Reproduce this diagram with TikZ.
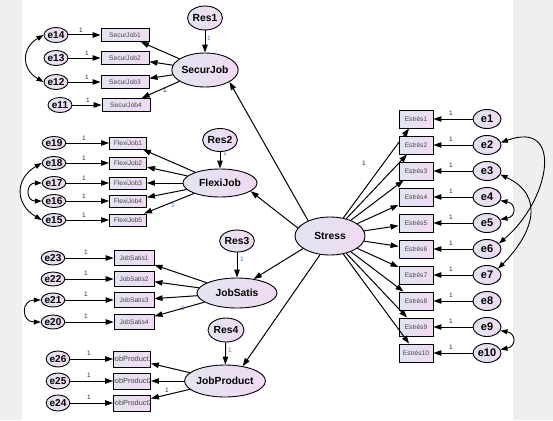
\documentclass[tikz,border=0pt]{standalone}
\usepackage{fontspec}
\setmainfont{Liberation Sans}
\usetikzlibrary{arrows.meta,shapes.geometric}
\definecolor{bgg}{HTML}{EFEFEF}
\definecolor{shL}{HTML}{E2E4F1}
\definecolor{shR}{HTML}{F1DAF3}
\definecolor{lblue}{HTML}{3C78C8}
\definecolor{lgray}{HTML}{2A2A1A}
\definecolor{btext}{HTML}{444444}
\begin{document}
\begin{tikzpicture}[x=1pt,y=-1pt,
  sz/.style 2 args={minimum width=#1pt,minimum height=#2pt},
  lat/.style={ellipse,draw=black,line width=0.9pt,left color=shL,right color=shR,inner sep=0pt,font=\bfseries\fontsize{10.3}{10.3}\selectfont},
  errl/.style={lat,font=\bfseries\fontsize{10}{10}\selectfont},
  errr/.style={lat,font=\bfseries\fontsize{11}{11}\selectfont},
  obs/.style={rectangle,draw=black,line width=0.9pt,left color=shL,right color=shR,inner sep=0pt,text=btext,font=\fontsize{6.6}{6.6}\selectfont},
  obsjp/.style 2 args={obs,path picture={\node[font=\fontsize{7.4}{7.4}\selectfont,text=btext,inner sep=0pt] (#2) at (path picture bounding box.center) {#1};}},
  arr/.style={line width=1pt,-{Triangle[length=8pt,width=5.5pt]}},
  cov/.style={line width=0.9pt,{Triangle[length=7pt,width=5pt]}-{Triangle[length=7pt,width=5pt]}},
  one/.style={font=\fontsize{6.5}{6.5}\selectfont,text=lgray,inner sep=0pt},
  oneb/.style={one,text=lblue}
]
\useasboundingbox (0,0) rectangle (553,420);
\fill[bgg] (0,0) rectangle (553,420);
\fill[white] (22,0) rectangle (513,420);

% ---------- SecurJob group
\node[lat,sz={35}{24}] (res1) at (205,18) {Res1};
\node[lat,sz={66}{34}] (securjob) at (205,70) {SecurJob};
\node[obs,sz={48}{13}] (sj1) at (125,35) {SecurJob1};
\node[obs,sz={48}{13}] (sj2) at (125,58) {SecurJob2};
\node[obs,sz={48}{13}] (sj3) at (125,82) {SecurJob3};
\node[obs,sz={48}{13}] (sj4) at (126,105) {SecurJob4};
\node[errl,sz={24}{15}] (e14) at (56,35) {e14};
\node[errl,sz={24}{15}] (e13) at (56,58) {e13};
\node[errl,sz={24}{15}] (e12) at (56,82) {e12};
\node[errl,sz={24}{15}] (e11) at (60,105) {e11};

% ---------- FlexiJob group
\node[lat,sz={32}{23}] (res2) at (220,140) {Res2};
\node[lat,sz={74}{28}] (flexijob) at (220,183) {FlexiJob};
\node[obs,sz={37}{12}] (fj1) at (128,143) {FlexiJob1};
\node[obs,sz={37}{12}] (fj2) at (128,163) {FlexiJob2};
\node[obs,sz={37}{12}] (fj3) at (128,183) {FlexiJob3};
\node[obs,sz={37}{12}] (fj4) at (128,201) {FlexiJob4};
\node[obs,sz={37}{12}] (fj5) at (128,220) {FlexiJob5};
\node[errl,sz={22}{13}] (e19) at (54,143) {e19};
\node[errl,sz={22}{13}] (e18) at (54,163) {e18};
\node[errl,sz={22}{13}] (e17) at (54,183) {e17};
\node[errl,sz={22}{13}] (e16) at (54,201) {e16};
\node[errl,sz={22}{13}] (e15) at (54,220) {e15};

% ---------- JobSatis group
\node[lat,sz={33}{22}] (res3) at (237,241) {Res3};
\node[lat,sz={80}{30}] (jobsatis) at (237,293) {JobSatis};
\node[obs,sz={40}{15}] (js1) at (134,258) {JobSatis1};
\node[obs,sz={40}{15}] (js2) at (134,279) {JobSatis2};
\node[obs,sz={40}{15}] (js3) at (134,300) {JobSatis3};
\node[obs,sz={40}{15}] (js4) at (134,322) {JobSatis4};
\node[errl,sz={21}{14}] (e23) at (53,258) {e23};
\node[errl,sz={21}{14}] (e22) at (53,279) {e22};
\node[errl,sz={21}{14}] (e21) at (53,300) {e21};
\node[errl,sz={21}{14}] (e20) at (53,322) {e20};

% ---------- JobProduct group
\node[lat,sz={36}{24}] (res4) at (226,330) {Res4};
\node[lat,sz={74}{32}] (jobproduct) at (225,381) {JobProduct};
\node[obsjp={JobProduct1}{jpt1},sz={37}{16}] (jp1) at (132,359) {};
\node[obsjp={JobProduct2}{jpt2},sz={37}{16}] (jp2) at (132,381) {};
\node[obsjp={JobProduct3}{jpt3},sz={37}{16}] (jp3) at (132,403) {};
\node[errl,sz={23}{16}] (e26) at (58,359) {e26};
\node[errl,sz={23}{16}] (e25) at (58,381) {e25};
\node[errl,sz={23}{16}] (e24) at (58,403) {e24};

% ---------- Stress and indicators
\node[lat,sz={70}{38}] (stress) at (330,236) {Stress};
\foreach \i/\y in {1/119,2/145,3/171,4/197,5/223,6/249,7/275,8/301,9/327,10/353}{
  \node[obs,sz={34}{18}] (es\i) at (416,\y) {Estrés\i};
  \node[errr,sz={28}{19}] (e\i) at (487,\y) {e\i};
  \draw[arr] (e\i) -- (es\i);
  \draw[arr] (stress) -- (es\i);
  \node[one] (le\i) at (451,\y-6) {1};
}

% ---------- connectors: latent -> indicators
\foreach \b in {sj1,sj2,sj3,sj4}{\draw[arr] (securjob) -- (\b);}
\foreach \b in {fj1,fj2,fj3,fj4,fj5}{\draw[arr] (flexijob) -- (\b);}
\foreach \b in {js1,js2,js3,js4}{\draw[arr] (jobsatis) -- (\b);}
\foreach \b in {jp1,jp2,jp3}{\draw[arr] (jobproduct) -- (\b);}

% residuals
\draw[arr] (res1) -- (securjob);
\draw[arr] (res2) -- (flexijob);
\draw[arr] (res3) -- (jobsatis);
\draw[arr] (res4) -- (jobproduct);

% errors -> indicators
\draw[arr] (e14) -- (sj1); \draw[arr] (e13) -- (sj2); \draw[arr] (e12) -- (sj3); \draw[arr] (e11) -- (sj4);
\draw[arr] (e19) -- (fj1); \draw[arr] (e18) -- (fj2); \draw[arr] (e17) -- (fj3); \draw[arr] (e16) -- (fj4); \draw[arr] (e15) -- (fj5);
\draw[arr] (e23) -- (js1); \draw[arr] (e22) -- (js2); \draw[arr] (e21) -- (js3); \draw[arr] (e20) -- (js4);
\draw[arr] (e26) -- (jp1); \draw[arr] (e25) -- (jp2); \draw[arr] (e24) -- (jp3);

% Stress -> latent
\draw[arr] (stress.145) -- (securjob.-26);
\draw[arr] (stress.166) -- (flexijob.-15);
\draw[arr] (stress.205) -- (jobsatis.40);
\draw[arr] (stress.-118) -- (jobproduct.40);

% covariances
\draw[cov] (e14.west) to[out=210,in=150,looseness=1.4] (e12.west);
\draw[cov] (e18.west) to[out=210,in=150,looseness=1.4] (e15.west);
\draw[cov] (e17.west) to[out=180,in=180,looseness=2.3] (e16.west);
\draw[cov] (e21.west) to[out=180,in=180,looseness=2.3] (e20.west);
\draw[cov] (e2.10) to[out=20,in=40,looseness=1.7] (e6.25);
\draw[cov] (e3.-15) to[out=-25,in=45,looseness=1.35] (e7.30);
\draw[cov] (e4.-15) to[out=-10,in=10,looseness=2.2] (e5.15);
\draw[cov] (e9.-15) to[out=-10,in=10,looseness=2.2] (e10.15);

% ---------- labels "1"
\node[one] (l14) at (81,30) {1};
\node[one] (l13) at (87,53) {1};
\node[one] (l12) at (87,77) {1};
\node[one] (l11) at (88,100) {1};
\node[oneb] (lr1) at (209,38) {1};
\node[one] (lsj4) at (165,90) {1};
\node[one] (l19) at (84,138) {1};
\node[one] (l18) at (84,158) {1};
\node[one] (l17) at (84,178) {1};
\node[one] (l16) at (84,196) {1};
\node[one] (l15) at (84,215) {1};
\node[oneb] (lr2) at (225,153) {1};
\node[oneb] (lfj5) at (173,205) {1};
\node[one] (l23) at (86,252) {1};
\node[one] (l22) at (86,273) {1};
\node[one] (l21) at (86,294) {1};
\node[one] (l20) at (86,316) {1};
\node[oneb] (lr3) at (242,259) {1};
\node[oneb] (ljs4) at (183,308) {1};
\node[one] (l26) at (89,353) {1};
\node[one] (l25) at (89,375) {1};
\node[one] (l24) at (89,397) {1};
\node[oneb] (lr4) at (230,350) {1};
\node[one] (ljp3) at (167,390) {1};
\node[one] (lst) at (364,163) {1};
\end{tikzpicture}
\end{document}
